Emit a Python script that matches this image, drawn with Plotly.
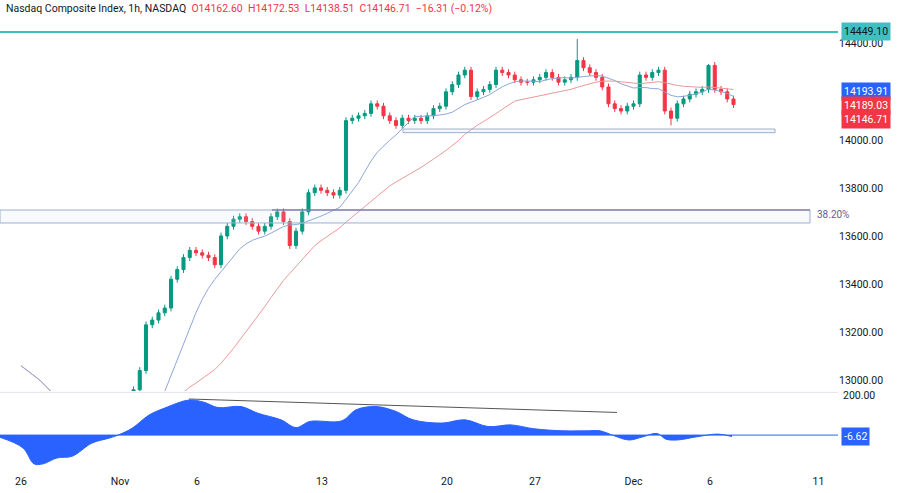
import plotly.graph_objects as go
import pandas as pd

closes = [13060,13020,12980,12940, 12870,12800,12760,12720, 12700,12680,12650,12640,
 12620,12660,12700,12750, 12800,12850,12960,13040, 13230,13250,13280,13300,
 13420,13460,13510,13540, 13530,13520,13510,13480, 13600,13640,13670,13680,
 13660,13640,13620,13640, 13680,13700,13660,13560, 13620,13700,13780,13800,
 13790,13780,13770,13790, 14080,14090,14100,14110, 14150,14140,14100,14080,
 14060,14090,14080,14090, 14080,14100,14130,14140, 14200,14230,14270,14290,
 14180,14200,14210,14230, 14290,14280,14270,14250, 14240,14240,14250,14260,
 14280,14260,14240,14250, 14260,14330,14300,14280, 14260,14220,14150,14130,
 14120,14140,14150,14270, 14260,14280,14290,14120, 14090,14150,14170,14190,
 14200,14210,14310,14210, 14200,14170,14146.71]
first_open = 13080
osc_px = [0,23,34,43,57,72,92,109,118,132,149,166,189,204,218,241,258,281,296,310,342,356,376,396,413,442,465,488,511,534,563,586,600,614,629,643,657,666,677,697,718,732]
osc_val = [-11,-63,-141,-141,-112,-104,-39,-15,0,33,98,135,172,161,135,140,107,75,37,67,70,124,140,116,75,59,75,42,50,31,21,21,21,-3,-24,-8,8,-20,-24,-8,5,-7]
tick_days = [0,3.96,7.04,12.04,17.04,20.56,24.5,27.56,31.9]
tick_text = ["26","Nov","6","13","20","27","Dec","6","11"]

def d(px): return (px-21)/25.0

x = [i/4 for i in range(len(closes))]
opens = [first_open]+closes[:-1]
highs = [max(o,c)+14 for o,c in zip(opens,closes)]
lows = [min(o,c)-14 for o,c in zip(opens,closes)]
highs[89] = 14420; lows[104] = 14060; highs[110] = 14315
s = pd.Series(closes)
ma_fast = s.rolling(12, min_periods=1).mean()
ma_slow = s.rolling(28, min_periods=1).mean()

fig = go.Figure()
fig.add_trace(go.Scatter(x=x, y=ma_slow, mode="lines", line=dict(color="#e89a9a", width=1), xaxis="x", yaxis="y"))
fig.add_trace(go.Scatter(x=x, y=ma_fast, mode="lines", line=dict(color="#8fa6d8", width=1), xaxis="x", yaxis="y"))
fig.add_trace(go.Candlestick(x=x[16:], open=opens[16:], high=highs[16:], low=lows[16:], close=closes[16:],
    increasing=dict(line=dict(color="#089981", width=1), fillcolor="#089981"),
    decreasing=dict(line=dict(color="#f23645", width=1), fillcolor="#f23645"),
    whiskerwidth=0, xaxis="x", yaxis="y"))
fig.add_trace(go.Scatter(x=[d(p) for p in osc_px], y=osc_val, mode="lines", fill="tozeroy",
    line=dict(color="#2962ff", width=1, shape="spline"), fillcolor="#2962ff", xaxis="x", yaxis="y2"))
fig.add_trace(go.Scatter(x=[d(189), d(617)], y=[177,111], mode="lines", line=dict(color="#555", width=1), xaxis="x", yaxis="y2"))

shapes = [
 dict(type="line", xref="x", yref="y", x0=d(0), x1=d(838), y0=14449.1, y1=14449.1, line=dict(color="#3fbfbf", width=2)),
 dict(type="rect", xref="x", yref="y", x0=d(403), x1=d(775), y0=14030, y1=14045, line=dict(color="#9bb0d0", width=1), fillcolor="rgba(200,210,230,0.2)"),
 dict(type="rect", xref="x", yref="y", x0=d(0), x1=d(810), y0=13654, y1=13708, line=dict(color="#9bb0d0", width=1), fillcolor="rgba(200,210,240,0.12)"),
 dict(type="line", xref="x", yref="y", x0=d(272), x1=d(810), y0=13708, y1=13708, line=dict(color="#6a5a9a", width=1)),
 dict(type="line", xref="x", yref="y2", x0=d(0), x1=d(838), y0=0, y1=0, line=dict(color="#2962ff", width=1)),
 dict(type="line", xref="paper", yref="paper", x0=0, x1=1, y0=0.167, y1=0.167, line=dict(color="#e0e3eb", width=1)),
]
def box(y, text, color, yref="y", fc="white"):
    return dict(xref="paper", yref=yref, x=1.004, y=y, text=text, showarrow=False, xanchor="left",
                bgcolor=color, font=dict(color=fc, size=10.5), borderpad=2)
ann = [
 box(14449.1, "14449.10", "#3fbfbf", fc="#131722"),
 box(14200, "14193.91", "#2962ff"),
 box(14143, "14189.03", "#f23645"),
 box(14086, "14146.71", "#f23645"),
 box(-6.62, "-6.62", "#2962ff", yref="y2"),
 dict(xref="paper", yref="y2", x=1.004, y=196, text="200.00", showarrow=False, xanchor="left", font=dict(size=10.5, color="#131722")),
 dict(xref="x", yref="y", x=d(815), y=13690, text="38.20%", showarrow=False, xanchor="left", font=dict(size=10, color="#6a5a9a")),
 dict(xref="paper", yref="paper", x=0.005, y=1.0, yanchor="top", xanchor="left", showarrow=False,
      text="Nasdaq Composite Index, 1h, NASDAQ  <span style='color:#f23645'>O14162.60  H14172.53  L14138.51  C14146.71  −16.31 (−0.12%)</span>",
      font=dict(size=10.5, color="#131722")),
]
fig.update_layout(width=900, height=493, margin=dict(l=0, r=62, t=0, b=22, autoexpand=False), showlegend=False,
    plot_bgcolor="white", paper_bgcolor="white", font=dict(family="Roboto, sans-serif", color="#131722"),
    shapes=shapes, annotations=ann,
    xaxis=dict(range=[d(0), d(838)], tickvals=tick_days, ticktext=tick_text, showgrid=False, zeroline=False,
               rangeslider=dict(visible=False), anchor="y2", tickfont=dict(size=10.5), ticks="", ticklabelstandoff=2),
    yaxis=dict(domain=[0.17, 1], range=[12955, 14582], side="right", showgrid=False, zeroline=False,
               tickvals=[13000,13200,13400,13600,13800,14000,14400], ticktext=["13000.00","13200.00","13400.00","13600.00","13800.00","14000.00","14400.00"],
               tickfont=dict(size=10.5)),
    yaxis2=dict(domain=[0, 0.165], range=[-176, 205], side="right", showgrid=False, zeroline=False, showticklabels=False),
)
fig.write_html("out.html", config={"displayModeBar": False},
               post_script="document.body.style.margin='0';document.body.style.overflow='hidden';")
